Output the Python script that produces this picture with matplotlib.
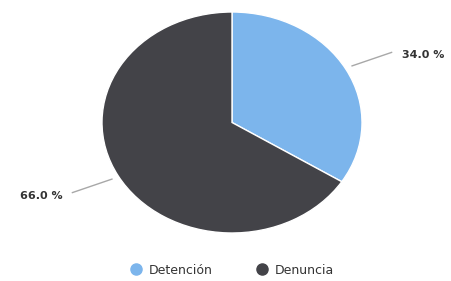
import numpy as np
import matplotlib.pyplot as plt

labels = ['Detención', 'Denuncia']
values = [34.0, 66.0]
colors = ['#7cb5ec', '#434348']

W, H = 451, 281
fig = plt.figure(figsize=(W / 100, H / 100), dpi=100)

# pie box in pixels (the source chart is stretched a bit horizontally)
left, right, top, bottom = 102, 362, 12, 233
ax = fig.add_axes([left / W, 1 - bottom / H, (right - left) / W, (bottom - top) / H])
wedges, _ = ax.pie(values, colors=colors, startangle=90, counterclock=False,
                   radius=1, wedgeprops=dict(linewidth=1, edgecolor='white'))
ax.set_aspect('auto')
ax.set_xlim(-1, 1)
ax.set_ylim(-1, 1)
ax.axis('off')

# overlay in pixel coordinates for labels and legend
ov = fig.add_axes([0, 0, 1, 1], zorder=3)
ov.set_xlim(0, W)
ov.set_ylim(H, 0)
ov.axis('off')

cx, cy = (left + right) / 2, (top + bottom) / 2
rx, ry = (right - left) / 2, (bottom - top) / 2
for w, v in zip(wedges, values):
    mid = np.deg2rad((w.theta1 + w.theta2) / 2)
    dx, dy = np.cos(mid), -np.sin(mid)
    ex, ey = cx + rx * dx, cy + ry * dy
    side = 1 if dx > 0 else -1
    sx, sy = ex + 7 * dx, ey + 7 * dy
    tx, ty = ex + 35 * dx + side * 15, ey + 35 * dy
    ov.plot([sx, tx], [sy, ty], color='#a8a8a8', lw=1)
    ov.text(tx + side * 10, ty + 3, f'{v:.1f} %', ha='left' if side > 0 else 'right',
            va='center', fontsize=8, fontweight='bold', color='#333333')

# legend
handles = [plt.Line2D([], [], marker='o', ls='', color=c, markersize=8) for c in colors]
ov.legend(handles, labels, loc='center', bbox_to_anchor=(232 / W, 1 - 270 / H),
          ncol=2, frameon=False, fontsize=9, handlelength=1, handletextpad=0.55,
          columnspacing=3.4, labelcolor='#333333', borderpad=0)

fig.savefig('out.png', dpi=100)
